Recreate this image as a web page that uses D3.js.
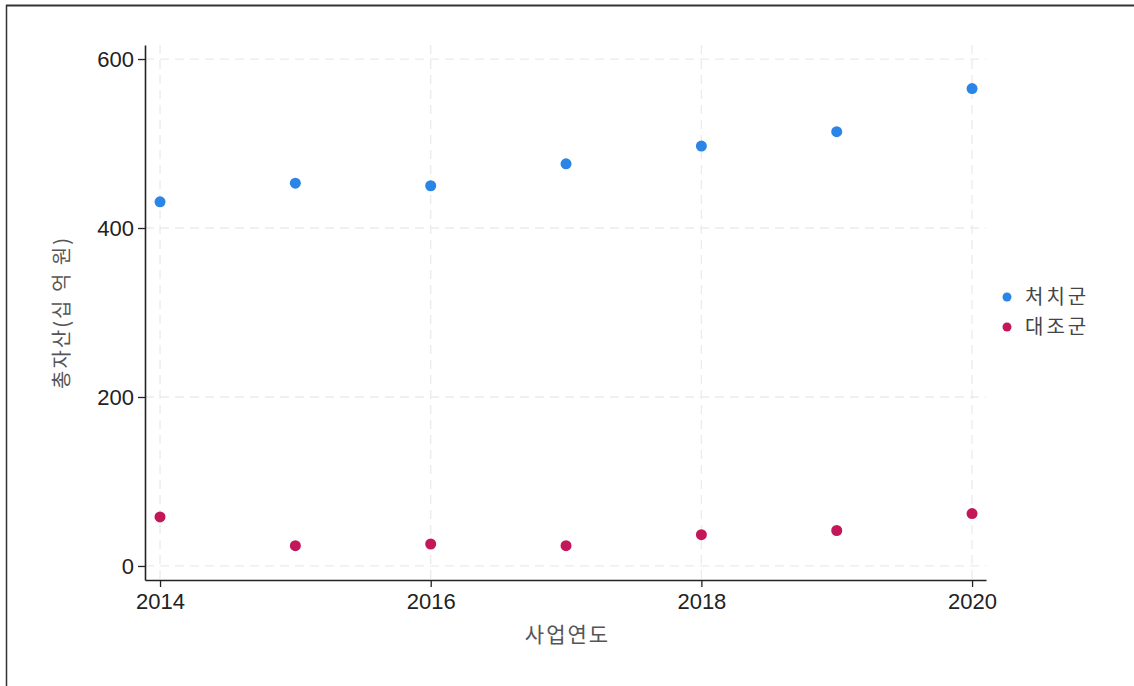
<!DOCTYPE html>
<html>
<head>
<meta charset="utf-8">
<script src="https://cdn.jsdelivr.net/npm/d3@7"></script>
<style>
  html, body { margin: 0; padding: 0; background: #fff; }
  svg { display: block; }
</style>
</head>
<body>
<svg id="chart" width="1134" height="686"></svg>
<script>
// Years and total assets (billion KRW) for each group
const years = [2014, 2015, 2016, 2017, 2018, 2019, 2020];
const treated = [431, 453, 450, 476, 497, 514, 565];
const control = [58, 24, 26, 24, 37, 42, 62];
const seriesNames = ["처치군", "대조군"];
const seriesColors = ["#2a85e6", "#c4175a"];
const xTicks = [2014, 2016, 2018, 2020];
const yTicks = [0, 200, 400, 600];

const svg = d3.select("#chart");
const font = "'Liberation Sans', Arial, 'Noto Sans CJK KR', sans-serif";
const krFont = "'Noto Sans CJK KR', 'Liberation Sans', sans-serif";

// Outer frame (top and left edges)
svg.append("line").attr("x1", 6).attr("x2", 1134).attr("y1", 5.5).attr("y2", 5.5)
  .attr("stroke", "#333").attr("stroke-width", 2);
svg.append("line").attr("x1", 6.5).attr("x2", 6.5).attr("y1", 5).attr("y2", 686)
  .attr("stroke", "#333").attr("stroke-width", 1.5);

const plot = { left: 145, right: 986, top: 45, bottom: 580 };

const x = d3.scaleLinear().domain([2013.889, 2020.103]).range([plot.left, plot.right]);
const y = d3.scaleLinear().domain([-16.6, 616.6]).range([plot.bottom, plot.top]);

// Dashed grid
const grid = svg.append("g").attr("stroke", "#ebebeb").attr("stroke-width", 1.3)
  .attr("stroke-dasharray", "9,6");
grid.selectAll(".gy").data(yTicks).join("line")
  .attr("x1", plot.left).attr("x2", plot.right)
  .attr("y1", d => y(d)).attr("y2", d => y(d));
grid.selectAll(".gx").data(xTicks).join("line")
  .attr("y1", plot.top).attr("y2", plot.bottom)
  .attr("x1", d => x(d)).attr("x2", d => x(d));

// Axes
const xAxis = svg.append("g").attr("transform", `translate(0,${plot.bottom})`)
  .call(d3.axisBottom(x).tickValues(xTicks).tickFormat(d3.format("d")).tickSize(7).tickSizeOuter(0));
const yAxis = svg.append("g").attr("transform", `translate(${plot.left},0)`)
  .call(d3.axisLeft(y).tickValues(yTicks).tickSize(7).tickSizeOuter(0));
[xAxis, yAxis].forEach(a => {
  a.select(".domain").attr("stroke", "#222").attr("stroke-width", 1.6);
  a.selectAll(".tick line").attr("stroke", "#222").attr("stroke-width", 1.3);
  a.selectAll(".tick text").attr("fill", "#222").style("font-family", font).style("font-size", "22px");
});
xAxis.selectAll(".tick text").attr("dy", "0.88em");
yAxis.selectAll(".tick text").attr("dx", "-0.05em");

// Axis titles
svg.append("text").attr("x", (plot.left + plot.right) / 2 + 2).attr("y", 642)
  .attr("text-anchor", "middle").attr("fill", "#555")
  .style("font-family", krFont).style("font-size", "21px").style("letter-spacing", "2px")
  .text("사업연도");
svg.append("text").attr("transform", `translate(69,${(plot.top + plot.bottom) / 2}) rotate(-90)`)
  .attr("text-anchor", "middle").attr("fill", "#555")
  .style("font-family", krFont).style("font-size", "20px").style("letter-spacing", "2px")
  .text("총자산(십 억 원)");

// Points
const series = [treated, control];
series.forEach((vals, i) => {
  svg.append("g").selectAll("circle").data(years.map((yr, j) => [yr, vals[j]])).join("circle")
    .attr("cx", d => x(d[0])).attr("cy", d => y(d[1])).attr("r", 5.5)
    .attr("fill", seriesColors[i]);
});

// Legend
const legend = svg.append("g").attr("transform", "translate(1007,297)");
seriesNames.forEach((name, i) => {
  const g = legend.append("g").attr("transform", `translate(0,${i * 30})`);
  g.append("circle").attr("r", 4.5).attr("fill", seriesColors[i]);
  g.append("text").attr("x", 18).attr("dy", "0.35em").attr("fill", "#444")
    .style("font-family", krFont).style("font-size", "20px").style("letter-spacing", "3px")
    .text(name);
});
</script>
</body>
</html>
